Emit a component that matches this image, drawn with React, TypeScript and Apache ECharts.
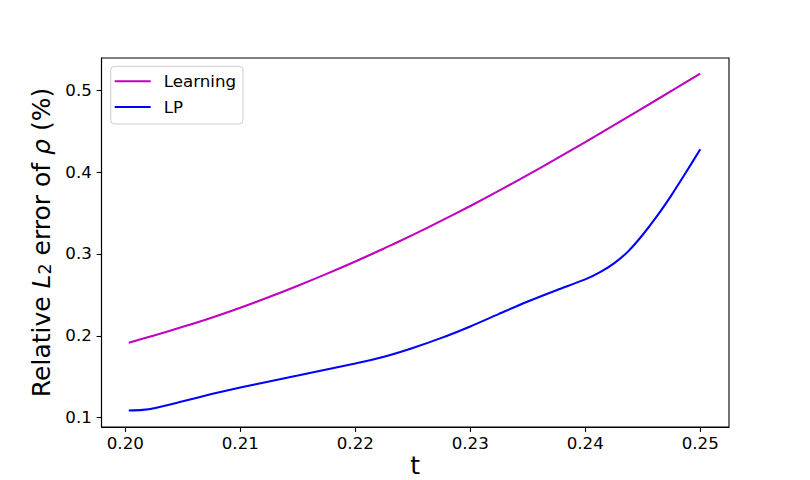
import React, { useEffect, useRef } from "react";
import * as echarts from "echarts";

const tLearning = [0.2003, 0.2025, 0.205, 0.2075, 0.21, 0.2125, 0.215, 0.2175, 0.22, 0.2225, 0.225, 0.2275, 0.23, 0.2325, 0.235, 0.2375, 0.24, 0.2425, 0.245, 0.2475, 0.25];
const learning = [0.1915, 0.2005, 0.211, 0.2222, 0.2344, 0.2474, 0.2612, 0.2757, 0.2909, 0.3068, 0.3234, 0.3407, 0.3587, 0.3774, 0.3967, 0.4165, 0.4368, 0.4574, 0.4783, 0.4993, 0.5204];

const tLP = [0.2003, 0.2015, 0.2025, 0.205, 0.2075, 0.21, 0.2125, 0.215, 0.2175, 0.22, 0.2225, 0.225, 0.2275, 0.23, 0.2325, 0.235, 0.2375, 0.24, 0.24125, 0.2425, 0.24375, 0.245, 0.24625, 0.2475, 0.24875, 0.25];
const lp = [0.1087, 0.1095, 0.1115, 0.12, 0.1288, 0.1368, 0.1443, 0.1515, 0.1588, 0.1663, 0.1745, 0.1852, 0.1975, 0.2115, 0.2268, 0.242, 0.2558, 0.269, 0.2775, 0.2885, 0.3035, 0.3235, 0.3465, 0.372, 0.3995, 0.428];

const xTicks = [0.2, 0.21, 0.22, 0.23, 0.24, 0.25];
const yTicks = [0.1, 0.2, 0.3, 0.4, 0.5];

const FONT = "DejaVu Sans";

export default function App() {
  const ref = useRef<HTMLDivElement>(null);
  useEffect(() => {
    if (!ref.current) return;
    const chart = echarts.init(ref.current, null, { renderer: "svg" });
    const option = {
      animation: false,
      backgroundColor: "#ffffff",
      textStyle: { fontFamily: FONT },
      grid: {
        left: 101.5,
        top: 58,
        width: 627.5,
        height: 369,
        containLabel: false,
        outerBoundsMode: "none",
        show: true,
        borderColor: "#000000",
        borderWidth: 1.1,
        backgroundColor: "transparent",
      },
      legend: {
        orient: "vertical",
        left: 110.7,
        top: 66.3,
        padding: [5, 7, 7, 4],
        icon: "rect",
        itemWidth: 36,
        itemHeight: 2.08,
        itemGap: 5.7,
        backgroundColor: "rgba(255,255,255,0.8)",
        borderColor: "#cccccc",
        borderWidth: 1,
        borderRadius: 4,
        textStyle: {
          fontFamily: FONT,
          fontSize: 16.67,
          color: "#000000",
          lineHeight: 20,
          padding: [0, 0, 0, 8],
        },
        data: ["Learning", "LP"],
      },
      xAxis: {
        type: "value",
        min: 0.19793,
        max: 0.2525,
        name: "t",
        nameLocation: "middle",
        nameGap: 38,
        nameMoveOverlap: false,
        nameTextStyle: {
          fontFamily: FONT,
          fontSize: 25,
          color: "#000000",
          verticalAlign: "middle",
          lineHeight: 18,
        },
        axisLine: { show: true, onZero: false, lineStyle: { color: "#000000", width: 1.1 } },
        axisTick: {
          show: true,
          length: 4.9,
          lineStyle: { color: "#000000", width: 1.1 },
          customValues: xTicks,
        },
        axisLabel: {
          margin: 8,
          fontFamily: FONT,
          fontSize: 16.67,
          color: "#000000",
          customValues: xTicks,
          formatter: (v: number) => v.toFixed(2),
        },
        splitLine: { show: false },
      },
      yAxis: {
        type: "value",
        min: 0.0886,
        max: 0.5395,
        name: "{a|Relative }{i|L}{s|2}{a| error of }{i|ρ}{a| (%)}",
        nameLocation: "middle",
        nameRotate: 90,
        nameGap: 48,
        nameMoveOverlap: false,
        nameTextStyle: {
          fontFamily: FONT,
          fontSize: 25,
          color: "#000000",
          rich: {
            a: { fontFamily: FONT, fontSize: 25, color: "#000000", verticalAlign: "bottom", lineHeight: 30 },
            i: { fontFamily: FONT, fontSize: 25, fontStyle: "italic", color: "#000000", verticalAlign: "bottom", lineHeight: 30 },
            s: { fontFamily: FONT, fontSize: 17.5, color: "#000000", verticalAlign: "bottom", lineHeight: 14 },
          },
        },
        axisLine: { show: true, onZero: false, lineStyle: { color: "#000000", width: 1.1 } },
        axisTick: {
          show: true,
          length: 4.9,
          lineStyle: { color: "#000000", width: 1.1 },
          customValues: yTicks,
        },
        axisLabel: {
          margin: 9.7,
          fontFamily: FONT,
          fontSize: 16.67,
          color: "#000000",
          customValues: yTicks,
          formatter: (v: number) => v.toFixed(1),
        },
        splitLine: { show: false },
      },
      series: [
        {
          name: "Learning",
          type: "line",
          data: tLearning.map((t, i) => [t, learning[i]]),
          showSymbol: false,
          symbol: "none",
          smooth: 0.25,
          lineStyle: { color: "#bf00bf", width: 2.08 },
          itemStyle: { color: "#bf00bf" },
        },
        {
          name: "LP",
          type: "line",
          data: tLP.map((t, i) => [t, lp[i]]),
          showSymbol: false,
          symbol: "none",
          smooth: 0.25,
          lineStyle: { color: "#0000ff", width: 2.08 },
          itemStyle: { color: "#0000ff" },
        },
      ],
    };
    chart.setOption(option as any);
    return () => chart.dispose();
  }, []);
  return (
    <div
      ref={ref}
      style={{ position: "fixed", left: 0, top: 0, width: 810, height: 480 }}
    />
  );
}
